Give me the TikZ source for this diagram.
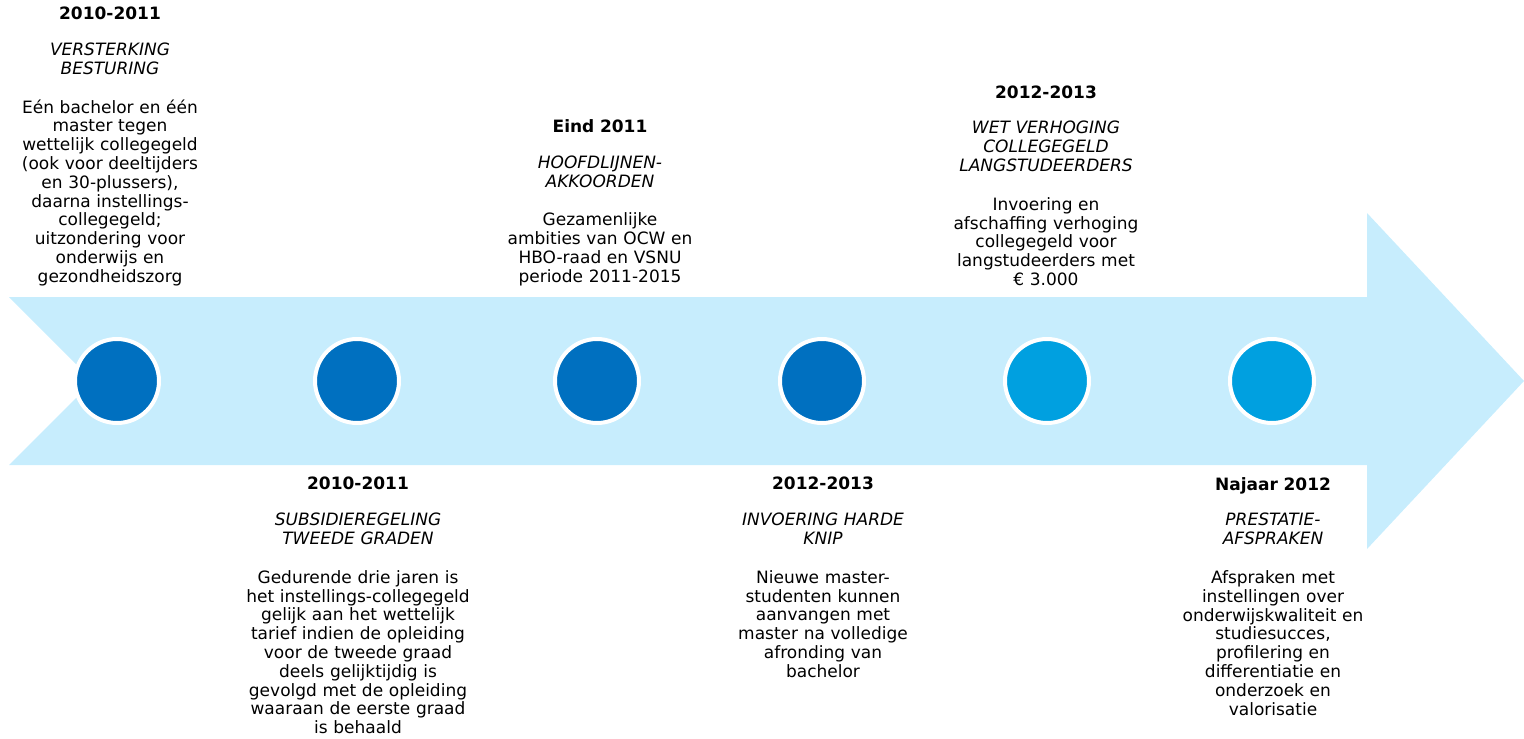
\documentclass[tikz,border=0pt]{standalone}
\usepackage{fontspec}
\setmainfont{DejaVu Sans}
\usepackage{tikz}
\usetikzlibrary{positioning}
\usepackage{xcolor}

\definecolor{bandblue}{RGB}{199,237,253}
\definecolor{darkdot}{RGB}{0,112,192}
\definecolor{lightdot}{RGB}{0,160,224}

\tikzset{
    dot/.style={circle, fill=#1, draw=white, line width=4pt, minimum size=84pt, inner sep=0pt},
    event/.style={align=center, text width=250pt, inner sep=0pt, font=\fontsize{17}{18.8}\selectfont},
}

\newcommand{\evtitle}[1]{\textbf{#1}\\[17pt]}
\newcommand{\evname}[1]{\textit{#1}\\[20pt]}

\begin{document}
\begin{tikzpicture}[x=1pt, y=-1pt]
        \useasboundingbox (0,0) rectangle (1524,739);
        % band with arrow head
        \fill[bandblue] (9,297) -- (1367,297) -- (1367,213) -- (1524,381)
            -- (1367,549) -- (1367,465) -- (9,465) -- (93,381) -- cycle;
        \foreach \i/\px/\col in {1/117/darkdot, 2/357/darkdot, 3/597/darkdot, 4/822/darkdot, 5/1047/lightdot, 6/1272/lightdot}
        {
            \node[dot=\col] (c\i) at (\px,381) {};
        }
        % texts above the band
        \node[event, anchor=south] (t1) at (110,286) {\evtitle{2010-2011}\evname{VERSTERKING\\BESTURING}%
            Eén bachelor en één\\master tegen\\wettelijk collegegeld\\(ook voor deeltijders\\en 30-plussers),\\daarna instellings-\\collegegeld;\\uitzondering voor\\onderwijs en\\gezondheidszorg};
        \node[event, anchor=south] (t3) at (600,286) {\evtitle{Eind 2011}\evname{HOOFDLIJNEN-\\AKKOORDEN}%
            Gezamenlijke\\ambities van OCW en\\HBO-raad en VSNU\\periode 2011-2015};
        \node[event, anchor=south] (t5) at (1046,286) {\evtitle{2012-2013}\evname{WET VERHOGING\\COLLEGEGELD\\LANGSTUDEERDERS}%
            Invoering en\\afschaffing verhoging\\collegegeld voor\\langstudeerders met\\€ 3.000};
        % texts below the band
        \node[event, anchor=north] (t2) at (358,477) {\evtitle{2010-2011}\evname{SUBSIDIEREGELING\\TWEEDE GRADEN}%
            Gedurende drie jaren is\\het instellings-collegegeld\\gelijk aan het wettelijk\\tarief indien de opleiding\\voor de tweede graad\\deels gelijktijdig is\\gevolgd met de opleiding\\waaraan de eerste graad\\is behaald};
        \node[event, anchor=north] (t4) at (823,477) {\evtitle{2012-2013}\evname{INVOERING HARDE\\KNIP}%
            Nieuwe master-\\studenten kunnen\\aanvangen met\\master na volledige\\afronding van\\bachelor};
        \node[event, anchor=north] (t6) at (1273,477) {\evtitle{Najaar 2012}\evname{PRESTATIE-\\AFSPRAKEN}%
            Afspraken met\\instellingen over\\onderwijskwaliteit en\\studiesucces,\\profilering en\\differentiatie en\\onderzoek en\\valorisatie};
    \end{tikzpicture}
\end{document}
